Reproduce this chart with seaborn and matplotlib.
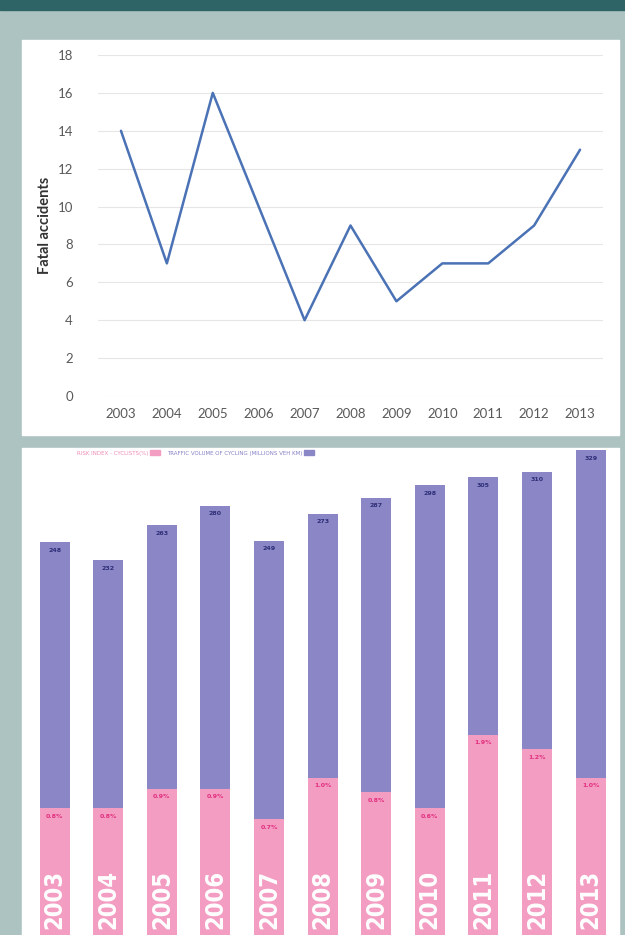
import numpy as np
import pandas as pd
import matplotlib
matplotlib.use("Agg")
import matplotlib.pyplot as plt
import matplotlib.patches as mpatches
import seaborn as sns

# ---------------- data ----------------
years = [2003, 2004, 2005, 2006, 2007, 2008, 2009, 2010, 2011, 2012, 2013]
fatal_accidents = [14, 7, 16, 10, 4, 9, 5, 7, 7, 9, 13]

traffic_volume = [248, 232, 263, 280, 249, 273, 287, 298, 305, 310, 329]
risk_pct = [0.8, 0.8, 0.9, 0.9, 0.7, 1.0, 0.8, 0.6, 1.9, 1.2, 1.0]
# level (same scale as traffic bars) where the pink risk segment ends
risk_bar_level = [13, 13, 30, 30, 3, 40, 27, 13, 78, 65, 40]

legend_labels = ["RISK INDEX - CYCLISTS(%)", "TRAFFIC VOLUME OF CYCLING (MILLIONS VEH KM)"]

# ---------------- style ----------------
sns.set_theme(style="white")
plt.rcParams['font.family'] = ['Lato', 'DejaVu Sans']

W, H = 625, 935
fig = plt.figure(figsize=(W / 100, H / 100), dpi=100)
fig.patch.set_facecolor("#adc3c1")

def fx(x):
    return x / W

def fy(y):
    return 1 - y / H

# dark band on top
fig.add_artist(mpatches.Rectangle((0, fy(10)), 1, 10 / H, transform=fig.transFigure,
                                  color="#2e6466", zorder=0))
# white panels
fig.add_artist(mpatches.Rectangle((fx(22), fy(435)), fx(597), 395 / H, transform=fig.transFigure,
                                  color="white", zorder=0))
fig.add_artist(mpatches.Rectangle((fx(22), 0), fx(597), (935 - 448) / H, transform=fig.transFigure,
                                  color="white", zorder=0))

# ---------------- upper line chart ----------------
ax1 = fig.add_axes([fx(98), fy(396), fx(603 - 98), (396 - 55) / H])
ax1.patch.set_alpha(0)
df1 = pd.DataFrame({"year": years, "fatal": fatal_accidents})
sns.lineplot(data=df1, x="year", y="fatal", ax=ax1, color="#4a72b5", linewidth=1.8)
ax1.set_xlim(2002.5, 2013.5)
ax1.set_ylim(0, 18)
ax1.set_yticks(range(0, 19, 2))
ax1.set_xticks(years)
ax1.grid(axis="y", color="#e6e6e6", linewidth=0.8)
ax1.set_axisbelow(True)
for s in ax1.spines.values():
    s.set_visible(False)
ax1.tick_params(axis="both", colors="#595959", labelsize=9.5, length=0)
ax1.tick_params(axis="y", pad=18)
ax1.tick_params(axis="x", pad=9)
ax1.set_xlabel("")
ax1.set_ylabel("Fatal accidents", fontsize=10.5, fontweight="bold", color="#333333", labelpad=8)
ax1.yaxis.set_label_coords((52 - 98) / (603 - 98), 0.5)

# ---------------- lower stacked bar chart ----------------
ax2 = fig.add_axes([fx(22), 0, fx(618 - 22), (935 - 448) / H])
ax2.patch.set_alpha(0)
ylo = -99
df2 = pd.DataFrame({"year": [str(y) for y in years], "volume": traffic_volume,
                    "risk_level": risk_bar_level, "pct": risk_pct})
purple = "#8b86c6"
pink = "#f39dc2"
sns.barplot(data=df2, x="year", y="volume", ax=ax2, color=purple, width=0.56,
            saturation=1, bottom=ylo - 50, linewidth=0, label=legend_labels[1])
sns.barplot(data=df2, x="year", y="risk_level", ax=ax2, color=pink, width=0.56,
            saturation=1, bottom=ylo - 50, linewidth=0, label=legend_labels[0])
# bars start below the visible floor; set heights to reach the absolute levels
n = len(years)
for i, p in enumerate(ax2.patches):
    if i < n:
        p.set_y(ylo - 50)
        p.set_height(traffic_volume[i] - (ylo - 50))
    else:
        p.set_y(ylo - 50)
        p.set_height(risk_bar_level[i - n] - (ylo - 50))

ax2.set_xlim(-0.61, 10.51)
ax2.set_ylim(ylo, 331)
ax2.set_xlabel("")
ax2.set_ylabel("")
ax2.set_xticks([])
ax2.set_yticks([])
for s in ax2.spines.values():
    s.set_visible(False)

px = (331 - ylo) / (935 - 448)  # data units per pixel
for i in range(n):
    ax2.text(i, traffic_volume[i] - 8 * px, f"{traffic_volume[i]}", ha="center", va="center",
             fontsize=4.5, fontweight="bold", color="#2e2e78", family="DejaVu Sans")
    ax2.text(i, risk_bar_level[i] - 8 * px, f"{risk_pct[i]:.1f}%", ha="center", va="center",
             fontsize=4.5, fontweight="bold", color="#e2307f", family="DejaVu Sans")
    ax2.text(i, 0.012, str(years[i]), transform=ax2.get_xaxis_transform(), rotation=90,
             ha="center", va="bottom", fontsize=17, fontweight="bold", color="white",
             fontstretch="condensed", family=["DejaVu Sans"])

handles = [mpatches.Patch(color=pink), mpatches.Patch(color=purple)]
leg = ax2.legend(handles, legend_labels, ncol=2, markerfirst=False, frameon=False,
                 loc="center left",
                 bbox_to_anchor=((77 - 22) / 596, (935 - 453) / 487),
                 borderpad=0, borderaxespad=0, handlelength=1.8, handleheight=1.0,
                 handletextpad=0.3, columnspacing=1.2,
                 labelcolor=["#f08cb6", "#8580c6"],
                 prop={"family": "DejaVu Sans", "size": 4})

fig.savefig("out.png", dpi=100, facecolor=fig.get_facecolor())
